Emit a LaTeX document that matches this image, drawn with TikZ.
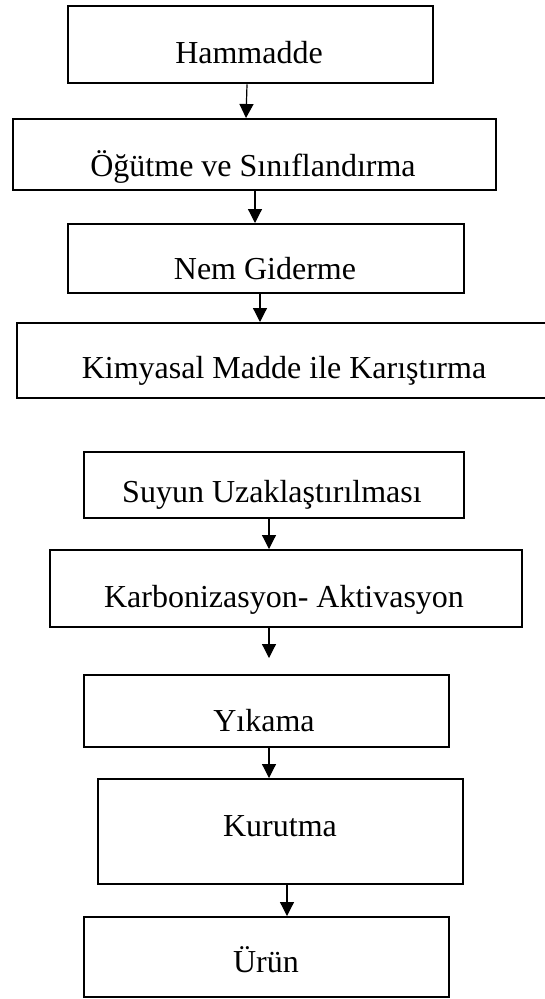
\documentclass[tikz,border=0pt]{standalone}
\usepackage{fontspec}
\setmainfont{Liberation Serif}
\usetikzlibrary{arrows.meta}
\begin{document}
\begin{tikzpicture}[x=1pt,y=-1pt,
  box/.style={draw=black,line width=2.4pt,rectangle,inner sep=0pt,anchor=north west},
  lbl/.style={anchor=base,inner sep=0pt,font=\fontsize{32}{38}\selectfont},
  arr/.style={draw=black,line width=1.2pt,-{Triangle[width=14pt,length=14pt]}}]
\useasboundingbox[fill=white] (0,0) rectangle (544,999);
% boxes
\node[box,minimum width=365pt,minimum height=77pt] (b1) at (67,5) {};
\node[box,minimum width=483pt,minimum height=71pt] (b2) at (12,118) {};
\node[box,minimum width=396pt,minimum height=69pt] (b3) at (67,223) {};
\node[box,minimum width=540pt,minimum height=75pt] (b4) at (16,322) {};
\node[box,minimum width=380pt,minimum height=66pt] (b5) at (83,451) {};
\node[box,minimum width=472pt,minimum height=77pt] (b6) at (49,549) {};
\node[box,minimum width=365pt,minimum height=72pt] (b7) at (83,674) {};
\node[box,minimum width=365pt,minimum height=105pt] (b8) at (97,778) {};
\node[box,minimum width=365pt,minimum height=80pt] (b9) at (83,916) {};
% labels
\node[lbl] (t1) at (249,63) {Hammadde};
\node[lbl] (t2) at (253,176) {Öğütme ve Sınıflandırma};
\node[lbl] (t3) at (265,279) {Nem Giderme};
\node[lbl] (t4) at (284,378) {Kimyasal Madde ile Karıştırma};
\node[lbl] (t5) at (272,502) {Suyun Uzaklaştırılması};
\node[lbl] (t6) at (284,607) {Karbonizasyon- Aktivasyon};
\node[lbl] (t7) at (264,731) {Yıkama};
\node[lbl] (t8) at (280,836) {Kurutma};
\node[lbl] (t9) at (266,972) {Ürün};
% arrow x positions
\coordinate (x1a) at (247,0);
\coordinate (x1b) at (246,0);
\coordinate (x2) at (255,0);
\coordinate (x3) at (260,0);
\coordinate (x4) at (269,0);
\coordinate (x7) at (287,0);
\coordinate (e5) at (269,658);
% arrows
\draw[arr] (b1.south -| x1a) -- (b2.north -| x1b);
\draw[arr] (b2.south -| x2) -- (b3.north -| x2);
\draw[arr] (b3.south -| x3) -- (b4.north -| x3);
\draw[arr] (b5.south -| x4) -- (b6.north -| x4);
\draw[arr] (b6.south -| x4) -- (e5);
\draw[arr] (b7.south -| x4) -- (b8.north -| x4);
\draw[arr] (b8.south -| x7) -- (b9.north -| x7);
\end{tikzpicture}
\end{document}
